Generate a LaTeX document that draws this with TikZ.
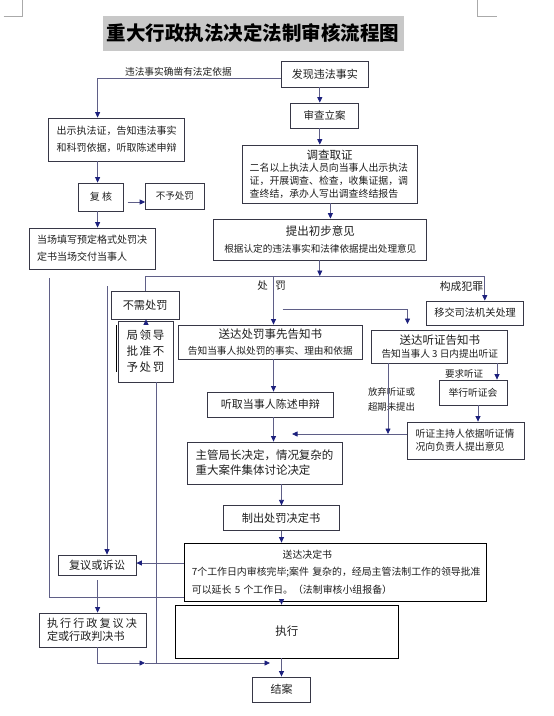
\documentclass[tikz,border=0pt]{standalone}
\usepackage{fontspec}
\setmainfont{Noto Sans CJK SC}
\usetikzlibrary{arrows.meta}
\definecolor{boxc}{RGB}{55,55,70}
\definecolor{linec}{RGB}{95,95,135}
\definecolor{arrc}{RGB}{28,32,125}
\definecolor{txt}{RGB}{30,30,30}
\definecolor{titlegray}{RGB}{200,200,200}
\definecolor{cornerc}{RGB}{170,170,170}
\newcommand{\myfs}[1]{\fontsize{#1pt}{#1pt}\selectfont}
\tikzset{
  box/.style={draw=boxc, line width=0.8pt, inner sep=0pt, text=txt, align=center},
  conn/.style={draw=linec, line width=0.8pt, -{Triangle[length=5.5pt,width=5pt,color=arrc]}},
  ln/.style={draw=linec, line width=0.8pt},
  lbl/.style={inner sep=0pt, text=txt},
}
\begin{document}
\begin{tikzpicture}[x=1pt,y=-1pt]
\useasboundingbox (0,0) rectangle (554,716);
% corner marks
\draw[cornerc, line width=0.6pt] (3.5,16) -- (22.3,16) -- (22.3,0);
\draw[cornerc, line width=0.6pt] (477,0) -- (477,16) -- (496.5,16);
% title
\node[fill=titlegray, inner sep=0pt, minimum width=301pt, minimum height=35pt, text=black,
      font={\bfseries\myfs{19.5}}] (title) at (253,33.5) {重大行政执法决定法制审核流程图};

% boxes
\node[box, minimum width=87.6pt, minimum height=26pt, font={\myfs{11}}] (faxian) at (324.8,74) {发现违法事实};
\node[box, minimum width=68pt, minimum height=25pt, font={\myfs{10.5}}] (shencha) at (324.6,115.5) {审查立案};
\node[box, minimum width=136.4pt, minimum height=43pt, font={\fontsize{10pt}{17pt}\selectfont}] (chushi) at (116.6,139.5)
  {出示执法证，告知违法事实\\和科罚依据，听取陈述申辩};
\node[box, align=left, text width=160pt, minimum width=174.6pt, minimum height=58pt, font={\fontsize{9.9pt}{12.8pt}\selectfont}] (diaocha) at (329.7,174)
  {\makebox[160pt]{\myfs{11.5}调查取证}\\二名以上执法人员向当事人出示执法\\证，开展调查、检查，收集证据，调\\查终结，承办人写出调查终结报告};
\node[box, minimum width=45.3pt, minimum height=28pt, font={\myfs{10}}] (fuhe) at (101,197) {复 核};
\node[box, minimum width=58.3pt, minimum height=26pt, font={\myfs{9.5}}] (buyu) at (174.75,196) {不予处罚};
\node[box, align=left, text width=111pt, minimum width=125.8pt, minimum height=41pt, font={\fontsize{10pt}{17pt}\selectfont}] (dangchang) at (92.6,248.5)
  {当场填写预定格式处罚决\\定书当场交付当事人};
\node[box, minimum width=213pt, minimum height=41pt, font={\fontsize{9.6pt}{17pt}\selectfont}] (tichu) at (320.35,239.5)
  {{\myfs{11.5}提出初步意见}\\根据认定的违法事实和法律依据提出处理意见};
\node[box, minimum width=67.7pt, minimum height=28pt, font={\myfs{11.2}}] (buxu) at (145.15,305) {不需处罚};
\node[box, minimum width=55pt, minimum height=61pt, font={\fontsize{11.5pt}{16pt}\selectfont}] (juling) at (145.5,351.5)
  {\makebox[38pt][s]{局\hfil 领\hfil 导}\\\makebox[38pt][s]{批\hfil 准\hfil 不}\\\makebox[38pt][s]{予\hfil 处\hfil 罚}};
\node[box, minimum width=183.8pt, minimum height=34pt, font={\fontsize{9.7pt}{16pt}\selectfont}] (songdacf) at (270.3,342)
  {{\myfs{11.5}送达处罚事先告知书}\\告知当事人拟处罚的事实、理由和依据};
\node[box, minimum width=136pt, minimum height=33pt, font={\fontsize{9.7pt}{12.8pt}\selectfont}] (songdatz) at (439.75,346.5)
  {{\myfs{11.5}送达听证告知书}\\告知当事人 3 日内提出听证};
\node[box, minimum width=97.2pt, minimum height=24pt, font={\myfs{10.2}}] (yijiao) at (475.1,313) {移交司法机关处理};
\node[box, minimum width=125.8pt, minimum height=25pt, font={\myfs{11}}] (tingqu) at (270.3,404.5) {听取当事人陈述申辩};
\node[box, minimum width=68pt, minimum height=25pt, font={\myfs{9.8}}] (juxing) at (473,392.5) {举行听证会};
\node[box, align=left, text width=100pt, minimum width=117pt, minimum height=37pt, font={\fontsize{9.9pt}{13pt}\selectfont}] (zhuchi) at (465.5,440.5)
  {听证主持人依据听证情\\况向负责人提出意见};
\node[box, align=left, text width=139pt, minimum width=155.5pt, minimum height=42pt, font={\fontsize{11.5pt}{15pt}\selectfont}] (zhuguan) at (265,463)
  {主管局长决定，情况复杂的\\重大案件集体讨论决定};
\node[box, minimum width=116pt, minimum height=24.5pt, font={\myfs{11.2}}] (zhichu) at (281,518) {制出处罚决定书};
\node[box, draw=black, align=left, text width=287pt, minimum width=301.2pt, minimum height=58pt, font={\fontsize{9.9pt}{17.5pt}\selectfont}] (songjue) at (335.4,572)
  {\hspace*{90.7pt}送达决定书\\\mbox{7个工作日内审核完毕;案件~复杂的，经局主管法制工作的领导批准}\\\mbox{可以延长~5~个工作日。（法制审核小组报备）}};
\node[box, draw=black, minimum width=223.6pt, minimum height=53pt, font={\myfs{11.5}}] (zhixing) at (286.8,631.5) {执行};
\node[box, minimum width=78pt, minimum height=20pt, font={\myfs{11.2}}] (fuyi) at (97,565) {复议或诉讼};
\node[box, align=left, text width=91pt, minimum width=107pt, minimum height=34pt, font={\fontsize{11.1pt}{13.5pt}\selectfont}] (zhixingfy) at (92.5,630)
  {\makebox[90pt][s]{执\hfil 行\hfil 行\hfil 政\hfil 复\hfil 议\hfil 决}\\定或行政判决书};
\node[box, minimum width=57.5pt, minimum height=25.3pt, font={\myfs{11}}] (jiean) at (281.5,689.6) {结案};

% labels
\node[lbl, font={\myfs{9.7}}] (lab1) at (178.4,72) {违法事实确凿有法定依据};
\node[lbl, font={\myfs{10.5}}] (labchu) at (262.5,286) {处};
\node[lbl, font={\myfs{10.5}}] (labfa) at (280.5,286) {罚};
\node[lbl, font={\myfs{10.8}}] (labfz) at (461.5,286) {构成犯罪};
\node[lbl, font={\myfs{9.5}}] (labyq) at (464,374) {要求听证};
\node[lbl, align=center, font={\fontsize{9.4pt}{15pt}\selectfont}] (labfq) at (391.5,399.5) {放弃听证或\\超期未提出};

% coordinates
\coordinate (xA) at (97.6,0);
\coordinate (xB) at (319.8,0);
\coordinate (xC) at (330.4,0);
\coordinate (xP) at (273.5,0);
\coordinate (xQ) at (281.5,0);
\coordinate (x146) at (146,0);
\coordinate (x156) at (156,0);
\coordinate (x388) at (388,0);
\coordinate (x478) at (478,0);
\coordinate (x497) at (497,0);
\coordinate (hL) at (145.5,276);
\coordinate (hR) at (484.8,276);
\coordinate (hM) at (273.5,276);
\coordinate (hC) at (319.8,276);
\coordinate (s1) at (282.7,309);
\coordinate (s3) at (407.5,324);
\coordinate (h434) at (292,434);
\coordinate (v49a) at (49,278);
\coordinate (v49b) at (49,597);
\coordinate (v107) at (107,286);
\coordinate (b663m) at (145,663);
\coordinate (b663e) at (270,663);
\coordinate (v156b) at (156,663);
\coordinate (jl1) at (116.5,325);
\coordinate (jl2) at (116.5,372);

% connectors
\draw[conn] ([yshift=-4pt]faxian.west) -| (chushi.north -| xA);
\draw[conn] (faxian.south -| xB) -- (shencha.north -| xB);
\draw[conn] (shencha.south -| xB) -- (diaocha.north -| xB);
\draw[conn] (diaocha.south -| xC) -- (tichu.north -| xC);
\draw[conn] (tichu.south -| xB) -- (hC);
\draw[ln] (hL) -- (hR);
\draw[ln] (hL) -- (buxu.north -| hL);
\draw[conn] (hR) -- (yijiao.north -| hR);
\draw[conn] (hM) -- (songdacf.north -| hM);
\draw[conn] (s1) -| (s3);
\draw[conn] (chushi.south -| xA) -- (fuhe.north -| xA);
\draw[conn] (fuhe.south -| xA) -- (dangchang.north -| xA);
\draw[conn, shorten <=3.5pt] ([yshift=-5pt]fuhe.east) coordinate (fh) -- (fh -| buyu.west);
\draw[conn] (juling.north -| x146) -- (buxu.south -| x146);
\draw[draw=black, line width=1.1pt] (jl1) -- (jl2);
\draw[conn] (songdacf.south -| xP) -- (tingqu.north -| xP);
\draw[conn] (tingqu.south -| xP) -- (zhuguan.north -| xP);
\draw[conn] (songdatz.south -| x388) -- (x388 |- h434);
\draw[conn] (songdatz.south -| x497) -- (juxing.north -| x497);
\draw[conn] (juxing.south -| x478) -- (zhuchi.north -| x478);
\draw[conn] (zhuchi.west |- h434) -- (h434);
\draw[conn] (zhuguan.south -| xQ) -- (zhichu.north -| xQ);
\draw[conn] (zhichu.south -| xQ) -- (songjue.north -| xQ);
\draw[conn] (songjue.south -| xQ) -- (zhixing.north -| xQ);
\draw[conn] (zhixing.south -| xQ) -- (jiean.north -| xQ);
\draw[ln] (v49a) -- (v49b) -- (v49b -| songjue.west);
\draw[conn] (v107) -- (fuyi.north -| v107);
\draw[conn] ([yshift=2pt]fuyi.east) coordinate (fy) (songjue.west |- fy) -- (fy);
\draw[conn, shorten <=5pt] (fuyi.south -| xA) -- (zhixingfy.north -| xA);
\draw[conn] (zhixingfy.south -| xA) |- (b663m);
\draw[conn] (b663m) -- (b663e);
\draw[ln] (juling.south -| x156) -- (v156b);
\end{tikzpicture}
\end{document}
